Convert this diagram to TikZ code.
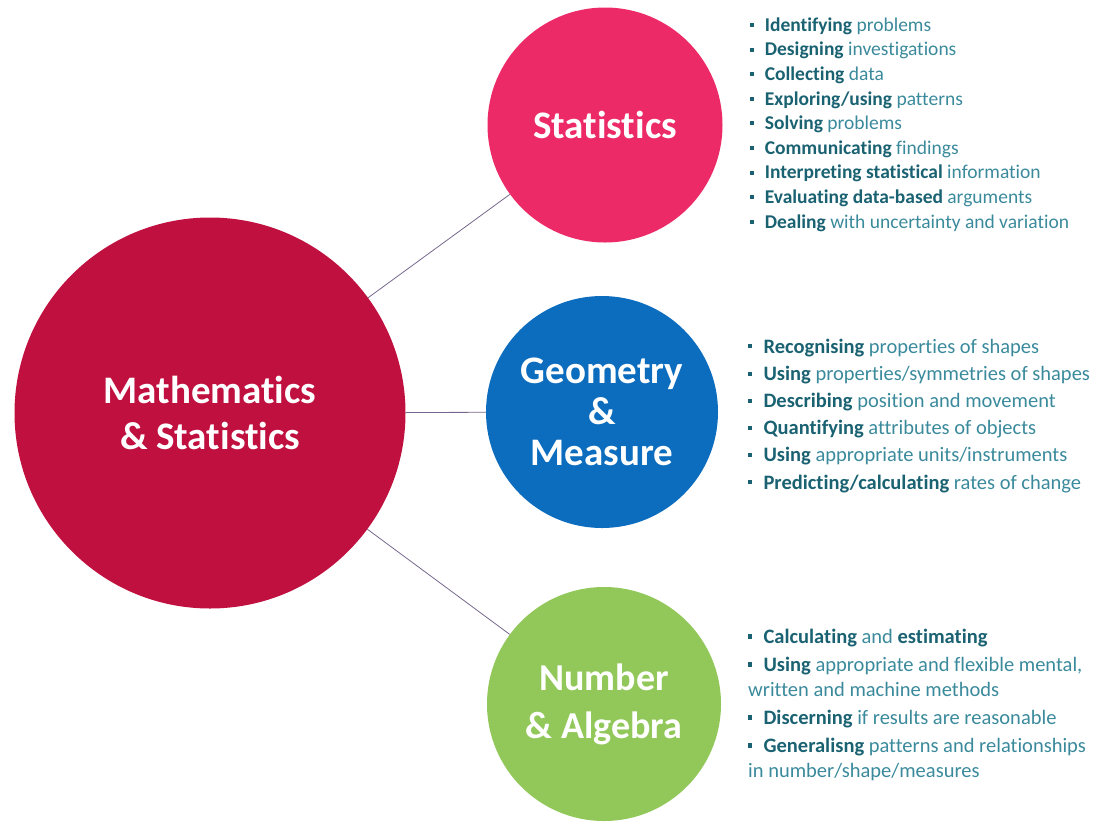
\documentclass[tikz,border=0pt]{standalone}
\usepackage{fontspec}
\setmainfont{Carlito}[Ligatures={NoCommon}]
\usepackage{tikz}
\usetikzlibrary{positioning}

\definecolor{mainred}{RGB}{192,16,64}
\definecolor{statpink}{RGB}{237,42,104}
\definecolor{geoblue}{RGB}{12,108,190}
\definecolor{numgreen}{RGB}{146,200,90}
\definecolor{tealdark}{RGB}{26,98,114}
\definecolor{teallight}{RGB}{58,138,156}
\definecolor{linkline}{RGB}{118,104,140}

% bullet point: small square, bold lead word
\newcommand{\itm}[2]{{\color{tealdark}\raisebox{0.22em}{\rule{0.2em}{0.2em}}}\hspace{0.55em}\textbf{\color{tealdark}#1}#2}

\tikzset{
  topic/.style={circle, inner sep=0pt, text=white, align=center},
  pointlist/.style={anchor=base west, inner sep=0pt, align=left, text=teallight},
  link/.style={draw=linkline, line width=0.8pt}
}

\begin{document}
\begin{tikzpicture}[x=1pt, y=-1pt]
\useasboundingbox (0,0) rectangle (1096,823);

% Circles
\node[topic, fill=mainred, minimum size=391pt, font=\bfseries\fontsize{39}{46}\selectfont] (maths) at (210,413) {Mathematics\\\& Statistics};
\node[topic, fill=statpink, minimum size=235pt, font=\bfseries\fontsize{39}{44}\selectfont] (stats) at (605,125) {Statistics};
\node[topic, fill=geoblue, minimum size=232pt, font=\bfseries\fontsize{39}{41}\selectfont] (geom) at (602,412) {Geometry\\\&\\Measure};
\node[topic, fill=numgreen, minimum size=234pt, font=\bfseries\fontsize{38}{48}\selectfont] (numb) at (604,704) {Number\\\& Algebra};

% Links
\draw[link] (maths) -- (stats);
\draw[link] (maths) -- (geom);
\draw[link] (maths) -- (numb);

% Lists (anchored on the last line)
\node[pointlist, font=\fontsize{19.5}{24.6}\selectfont] (statlist) at (750,228) {%
\itm{Identifying}{ problems}\\
\itm{Designing}{ investigations}\\
\itm{Collecting}{ data}\\
\itm{Exploring/using}{ patterns}\\
\itm{Solving}{ problems}\\
\itm{Communicating}{ findings}\\
\itm{Interpreting statistical}{ information}\\
\itm{Evaluating data-based}{ arguments}\\
\itm{Dealing}{ with uncertainty and variation}};

\node[pointlist, font=\fontsize{20.5}{27.2}\selectfont] (geomlist) at (748,489) {%
\itm{Recognising}{ properties of shapes}\\
\itm{Using}{ properties/symmetries of shapes}\\
\itm{Describing}{ position and movement}\\
\itm{Quantifying}{ attributes of objects}\\
\itm{Using}{ appropriate units/instruments}\\
\itm{Predicting/calculating}{ rates of change}};

\node[pointlist, font=\fontsize{20.5}{25}\selectfont] (numblist) at (748,777) {%
\itm{Calculating}{ and \textbf{\color{tealdark}estimating}}\\[3pt]
\itm{Using}{ appropriate and flexible mental,}\\
written and machine methods\\[3pt]
\itm{Discerning}{ if results are reasonable}\\[3pt]
\itm{Generalisng}{ patterns and relationships}\\
in number/shape/measures};
\end{tikzpicture}
\end{document}
